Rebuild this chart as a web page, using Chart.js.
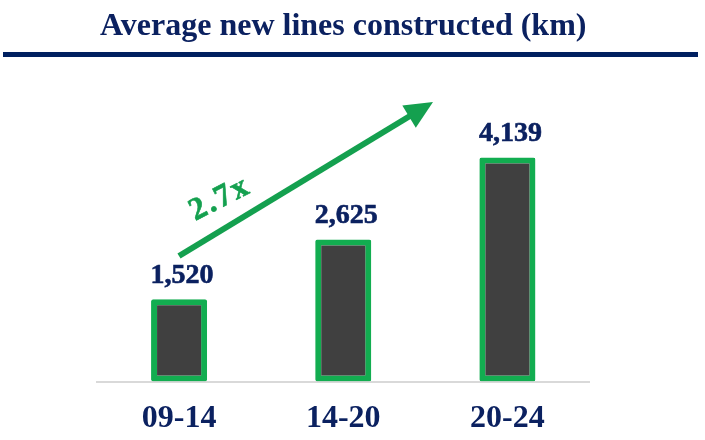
<!DOCTYPE html>
<html>
<head>
<meta charset="utf-8">
<style>
  html, body { margin: 0; padding: 0; background: #ffffff; }
  #wrap { width: 705px; height: 440px; position: relative; }
</style>
<script src="https://cdn.jsdelivr.net/npm/chart.js@4/dist/chart.umd.min.js"></script>
</head>
<body>
<div id="wrap"><canvas id="c" width="705" height="440"></canvas></div>
<script>
const categories = ['09-14', '14-20', '20-24'];
const lineValues = [1520, 2625, 4139];
const chartTitle = 'Average new lines constructed (km)';
const growthLabel = '2.7x';

const NAVY = '#0b2160';
const GREEN = '#12ad50';
const ARROW_GREEN = '#14a04f';
const SERIF = '"Liberation Serif", "Times New Roman", serif';

const fmt = v => v.toLocaleString('en-US');

const decorPlugin = {
  id: 'decor',
  beforeDraw(chart) {
    const ctx = chart.ctx;
    ctx.save();
    ctx.fillStyle = '#002060';
    ctx.fillRect(3, 52, 695, 5);
    ctx.restore();
  },
  afterDatasetsDraw(chart) {
    const ctx = chart.ctx;
    const meta = chart.getDatasetMeta(0);
    ctx.save();
    // value labels
    ctx.font = 'bold 28px ' + SERIF;
    ctx.fillStyle = NAVY;
    ctx.strokeStyle = NAVY;
    ctx.lineWidth = 0.6;
    ctx.textAlign = 'center';
    ctx.textBaseline = 'alphabetic';
    meta.data.forEach((bar, i) => {
      const t = fmt(lineValues[i]);
      ctx.fillText(t, bar.x + 3, bar.y - 16);
      ctx.strokeText(t, bar.x + 3, bar.y - 16);
    });
    // growth arrow
    const sx = 179, sy = 256, tx = 433, ty = 102;
    const dx = tx - sx, dy = ty - sy;
    const len = Math.hypot(dx, dy);
    const ux = dx / len, uy = dy / len;
    const nx = -uy, ny = ux;
    const headLen = 28, headHalf = 13;
    const bx = tx - ux * headLen, by = ty - uy * headLen;
    ctx.strokeStyle = ARROW_GREEN;
    ctx.fillStyle = ARROW_GREEN;
    ctx.lineWidth = 6;
    ctx.lineCap = 'butt';
    ctx.beginPath();
    ctx.moveTo(sx, sy);
    ctx.lineTo(bx + ux * 2, by + uy * 2);
    ctx.stroke();
    ctx.beginPath();
    ctx.moveTo(tx, ty);
    ctx.lineTo(bx + nx * headHalf, by + ny * headHalf);
    ctx.lineTo(bx - nx * headHalf, by - ny * headHalf);
    ctx.closePath();
    ctx.fill();
    // growth label
    ctx.translate(220, 199);
    ctx.rotate(-27 * Math.PI / 180);
    ctx.font = 'bold 32px ' + SERIF;
    try { ctx.letterSpacing = '2px'; } catch (e) {}
    ctx.textAlign = 'center';
    ctx.textBaseline = 'middle';
    ctx.lineWidth = 0.6;
    ctx.fillText(growthLabel, 0, 0);
    ctx.strokeText(growthLabel, 0, 0);
    ctx.restore();
  }
};

new Chart(document.getElementById('c'), {
  type: 'bar',
  data: {
    labels: categories,
    datasets: [{
      data: lineValues,
      backgroundColor: '#404040',
      borderColor: GREEN,
      borderWidth: 6,
      borderSkipped: false,
      borderRadius: 2,
      barPercentage: 0.3415,
      categoryPercentage: 1.0
    }]
  },
  options: {
    responsive: false,
    animation: false,
    devicePixelRatio: 1,
    layout: { padding: { left: 97, right: 115.5, top: 0, bottom: 0 } },
    plugins: {
      legend: { display: false },
      tooltip: { enabled: false },
      title: {
        display: true,
        text: chartTitle,
        color: NAVY,
        font: { family: SERIF, size: 32, weight: 'bold', lineHeight: 1.2 },
        padding: { top: 8, bottom: 53.6 }
      }
    },
    scales: {
      x: {
        grid: { display: false, drawTicks: false },
        border: { display: true, color: '#d9d9d9', width: 2 },
        ticks: {
          color: NAVY,
          padding: 18.5,
          font: { family: SERIF, size: 32, weight: 'bold', lineHeight: 1.2 }
        },
        afterFit(scale) { scale.height = 58.5; }
      },
      y: {
        display: false,
        min: 0,
        max: 5200
      }
    }
  },
  plugins: [decorPlugin]
});
</script>
</body>
</html>
